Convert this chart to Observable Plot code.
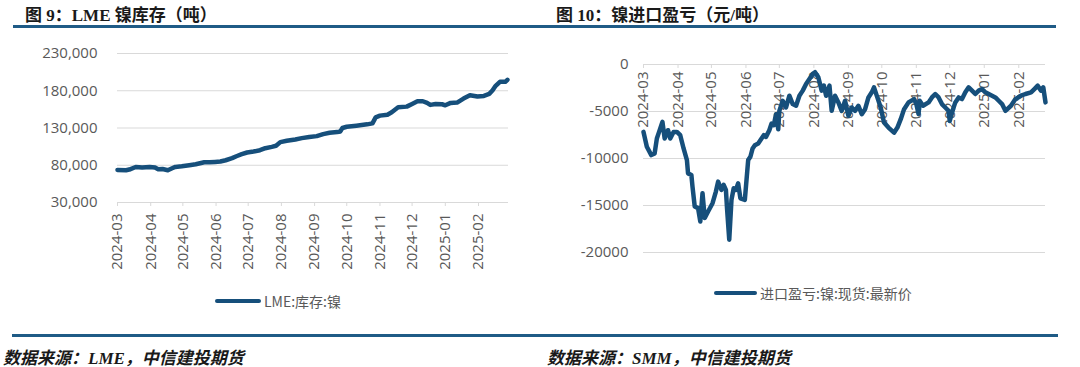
<!DOCTYPE html>
<html>
<head>
<meta charset="utf-8">
<script src="https://cdn.jsdelivr.net/npm/d3@7"></script>
<script src="https://cdn.jsdelivr.net/npm/@observablehq/plot@0.6"></script>
<style>
  html, body { margin: 0; padding: 0; background: #fff; }
  #root { position: relative; width: 1080px; height: 367px; overflow: hidden; background: #fff; }
  .abs { position: absolute; }
  .title { font-family: "Liberation Serif", "Noto Sans CJK SC", serif; font-weight: bold; font-size: 17px; color: #1a1a1a; white-space: nowrap; }
  .rule { background: #1f5b86; height: 3px; }
  .legend { font-family: "Noto Sans CJK SC", "Open Sans", sans-serif; font-size: 14px; color: #595959; white-space: nowrap; display: flex; align-items: center; }
  .legend .sw { display: inline-block; height: 4px; border-radius: 2px; background: #164f7b; margin-right: 3px; }
  .foot { font-family: "Liberation Serif", "Noto Sans CJK SC", serif; font-weight: bold; font-style: italic; font-size: 17px; color: #1a1a1a; white-space: nowrap; }
</style>
</head>
<body>
<div id="root">
  <div class="abs title" style="left:25px; top:1px;">图 9：LME 镍库存（吨）</div>
  <div class="abs title" style="left:556px; top:1px;">图 10：镍进口盈亏（元/吨）</div>
  <div class="abs rule" style="left:13px; top:25px; width:1043px;"></div>
  <div id="left" class="abs" style="left:0px; top:40px;"></div>
  <div id="right" class="abs" style="left:540px; top:40px;"></div>
  <div class="abs legend" style="left:215px; top:291px;"><span class="sw" style="width:46px"></span><span>LME:库存:镍</span></div>
  <div class="abs legend" style="left:714px; top:283px;"><span class="sw" style="width:43px"></span><span>进口盈亏:镍:现货:最新价</span></div>
  <div class="abs rule" style="left:12px; top:334px; width:1046px;"></div>
  <div class="abs foot" style="left:3px; top:344px;">数据来源：LME，中信建投期货</div>
  <div class="abs foot" style="left:547px; top:344px;">数据来源：SMM，中信建投期货</div>
</div>
<script>
// ---- Data: LME nickel stock (tonnes)
const stockDates = ["2024-03-01","2024-03-09","2024-03-12","2024-03-18","2024-03-24","2024-03-31","2024-04-05","2024-04-08","2024-04-12","2024-04-17","2024-04-21","2024-04-24","2024-04-30","2024-05-07","2024-05-13","2024-05-21","2024-05-26","2024-05-31","2024-06-05","2024-06-10","2024-06-16","2024-06-20","2024-06-25","2024-06-30","2024-07-06","2024-07-12","2024-07-17","2024-07-23","2024-07-27","2024-07-31","2024-08-06","2024-08-14","2024-08-20","2024-08-27","2024-09-03","2024-09-09","2024-09-15","2024-09-22","2024-09-25","2024-09-27","2024-10-01","2024-10-10","2024-10-20","2024-10-25","2024-10-28","2024-11-01","2024-11-08","2024-11-12","2024-11-18","2024-11-26","2024-12-01","2024-12-06","2024-12-11","2024-12-15","2024-12-18","2024-12-23","2024-12-29","2025-01-01","2025-01-06","2025-01-12","2025-01-18","2025-01-24","2025-01-31","2025-02-06","2025-02-11","2025-02-14","2025-02-17","2025-02-21","2025-02-26","2025-02-28"];
const stockValues = [73700,73300,74200,77700,76900,77700,76900,74600,75000,73300,76000,77700,78600,80000,81300,84000,84000,84500,85000,86700,89500,92100,94800,97100,98400,100200,102900,104700,106100,111000,112800,114600,116400,118000,119100,121800,123600,124500,125400,130000,131700,133100,134900,136200,144300,146600,147900,151100,157800,158700,162300,165900,165900,163700,161000,162300,161900,160500,163700,164100,169500,174000,172200,173100,175800,180300,186600,192000,192000,194700];

// ---- Data: nickel import profit/loss (yuan/tonne)
const profitDates = ["2024-03-01","2024-03-04","2024-03-08","2024-03-11","2024-03-13","2024-03-15","2024-03-18","2024-03-20","2024-03-23","2024-03-25","2024-03-28","2024-03-31","2024-04-03","2024-04-06","2024-04-09","2024-04-10","2024-04-13","2024-04-14","2024-04-16","2024-04-19","2024-04-21","2024-04-23","2024-04-25","2024-04-28","2024-05-02","2024-05-05","2024-05-07","2024-05-10","2024-05-12","2024-05-14","2024-05-15","2024-05-17","2024-05-19","2024-05-21","2024-05-23","2024-05-25","2024-05-27","2024-05-31","2024-06-03","2024-06-05","2024-06-07","2024-06-09","2024-06-12","2024-06-15","2024-06-17","2024-06-19","2024-06-22","2024-06-24","2024-06-26","2024-06-28","2024-06-30","2024-07-01","2024-07-04","2024-07-07","2024-07-10","2024-07-13","2024-07-16","2024-07-19","2024-07-22","2024-07-25","2024-07-28","2024-07-31","2024-08-02","2024-08-05","2024-08-08","2024-08-10","2024-08-12","2024-08-15","2024-08-17","2024-08-20","2024-08-23","2024-08-26","2024-08-29","2024-09-01","2024-09-04","2024-09-07","2024-09-10","2024-09-13","2024-09-16","2024-09-19","2024-09-22","2024-09-24","2024-09-27","2024-09-30","2024-10-03","2024-10-07","2024-10-12","2024-10-15","2024-10-18","2024-10-21","2024-10-25","2024-10-30","2024-11-01","2024-11-03","2024-11-04","2024-11-07","2024-11-12","2024-11-15","2024-11-18","2024-11-21","2024-11-24","2024-11-27","2024-11-30","2024-12-01","2024-12-04","2024-12-06","2024-12-09","2024-12-12","2024-12-15","2024-12-18","2024-12-21","2024-12-24","2024-12-27","2024-12-30","2025-01-02","2025-01-05","2025-01-08","2025-01-11","2025-01-14","2025-01-17","2025-01-20","2025-01-25","2025-01-29","2025-02-03","2025-02-07","2025-02-12","2025-02-15","2025-02-18","2025-02-21","2025-02-23","2025-02-25"];
const profitValues = [-7170,-8750,-9640,-9460,-7870,-7170,-6100,-7870,-6990,-7870,-7170,-7170,-7520,-8930,-10170,-11580,-11750,-12990,-15100,-15280,-16700,-13700,-16340,-15640,-14760,-13520,-12460,-13340,-12810,-13340,-15280,-18640,-14400,-13170,-13340,-12640,-14230,-14400,-10170,-9810,-8930,-8580,-8400,-7870,-7520,-7700,-6990,-6280,-6460,-5300,-6890,-4930,-3860,-4570,-3320,-4210,-4390,-3320,-2780,-2070,-1540,-1000,-820,-1360,-2780,-2250,-3320,-2250,-4930,-3320,-4030,-4930,-3860,-5460,-4570,-4930,-4390,-5280,-4750,-3500,-2960,-2430,-3500,-4570,-6180,-6710,-7250,-6710,-5820,-4750,-4030,-3680,-4210,-5280,-3860,-4390,-4030,-3500,-3140,-3500,-4210,-4570,-4930,-6000,-4750,-4030,-3500,-3680,-2960,-2430,-2780,-3140,-2780,-2610,-2960,-3140,-3320,-3500,-3860,-4210,-4930,-4390,-3680,-3320,-3140,-2960,-2610,-2250,-2780,-2430,-4030];

// ---- Axis ticks
const leftYTicks = [30000, 80000, 130000, 180000, 230000];
const rightYTicks = [0, -5000, -10000, -15000, -20000];
const monthTicks = ["2024-03-01","2024-04-01","2024-05-01","2024-06-01","2024-07-01","2024-08-01","2024-09-01","2024-10-01","2024-11-01","2024-12-01","2025-01-01","2025-02-01"];
const leftXDomain = ["2024-03-01", "2025-03-01"];
const rightXDomain = ["2024-03-01", "2025-02-25"];

// ---- Build tables
const parse = d3.utcParse("%Y-%m-%d");
const stock = stockDates.map((d, i) => ({date: parse(d), value: stockValues[i]}));
const profit = profitDates.map((d, i) => ({date: parse(d), value: profitValues[i]}));
const months = monthTicks.map(parse);
const fmtMonth = d3.utcFormat("%Y-%m");

const LINE = "#164f7b";
const GRID = "#d9d9d9";
const TEXT = "#595959";
const FONT = "'Open Sans', 'Noto Sans CJK SC', sans-serif";

const leftChart = Plot.plot({
  width: 540, height: 245,
  marginLeft: 117, marginRight: 32, marginTop: 13, marginBottom: 83,
  style: {fontFamily: FONT, fontSize: "15px", color: TEXT, background: "transparent", overflow: "visible"},
  x: {type: "utc", domain: leftXDomain.map(parse)},
  y: {domain: [30000, 230000]},
  marks: [
    Plot.ruleY(leftYTicks, {stroke: GRID, strokeWidth: 1.2}),
    Plot.axisY({ticks: leftYTicks, tickSize: 0, tickPadding: 20, tickFormat: d3.format(","), label: null, fill: TEXT}),
    Plot.axisX({ticks: months, tickSize: 4, tickRotate: -90, tickPadding: 7, tickFormat: fmtMonth, label: null, stroke: GRID, fill: TEXT}),
    Plot.line(stock, {x: "date", y: "value", stroke: LINE, strokeWidth: 4.5, strokeLinejoin: "round", strokeLinecap: "round"})
  ]
});
document.getElementById("left").append(leftChart);

const rightChart = Plot.plot({
  width: 540, height: 245,
  marginLeft: 103, marginRight: 35, marginTop: 24, marginBottom: 33,
  style: {fontFamily: FONT, fontSize: "15px", color: TEXT, background: "transparent", overflow: "visible"},
  x: {type: "utc", domain: rightXDomain.map(parse), axis: null},
  y: {domain: [-20000, 0]},
  marks: [
    Plot.ruleY(rightYTicks, {stroke: GRID, strokeWidth: 1.2}),
    Plot.axisY({ticks: rightYTicks, tickSize: 0, tickPadding: 15, tickFormat: d => String(d), label: null, fill: TEXT}),
    Plot.ruleX(months, {x: d => d, y1: 0, y2: 0, insetBottom: -4, stroke: GRID}),
    Plot.text(months, {x: d => d, y: 0, text: d => fmtMonth(d), rotate: -90, textAnchor: "end", dy: 7, fill: TEXT}),
    Plot.line(profit, {x: "date", y: "value", stroke: LINE, strokeWidth: 4.5, strokeLinejoin: "round", strokeLinecap: "round"})
  ]
});
document.getElementById("right").append(rightChart);
</script>
</body>
</html>
